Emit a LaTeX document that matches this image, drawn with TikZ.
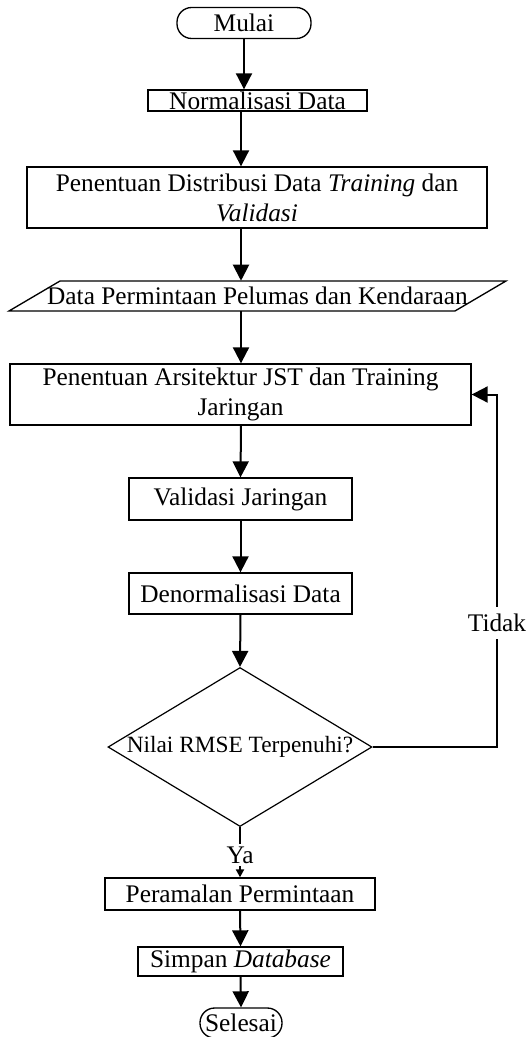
\documentclass[tikz,border=0pt]{standalone}
\usepackage{fontspec}
\setmainfont{Liberation Serif}
\usetikzlibrary{arrows.meta,shapes.geometric}
\begin{document}
\begin{tikzpicture}[x=0.75pt,y=-0.75pt,
  every node/.style={font=\fontsize{19}{22.5}\selectfont},
  box/.style={draw,line width=1pt,inner sep=0pt,align=center},
  term/.style={box,rounded corners=11pt},
  decision/.style={diamond,draw,line width=0.9pt,inner sep=0pt},
  arr/.style={line width=1.5pt,-{Triangle[length=12pt,width=12pt]}},
  smallarr/.style={line width=1.5pt,-{Triangle[length=6pt,width=6pt]}},
  tag/.style={fill=white,inner xsep=1pt,inner ysep=5pt}]
\useasboundingbox (0,0) rectangle (530,1037);

% process steps
\node[term,minimum width=100.5pt,minimum height=23.25pt] (mulai) at (244,23) {Mulai};
\node[box,minimum width=164.25pt,minimum height=15.75pt] (norm) at (257.5,100.5) {Normalisasi Data};
\node[box,minimum width=345pt,minimum height=45.75pt] (dist) at (257,197.5)
  {Penentuan Distribusi Data \textit{Training} dan\\\textit{Validasi}};
\node[inner sep=0pt,minimum width=334.5pt,minimum height=22.5pt] (par) at (257.5,296)
  {Data Permintaan Pelumas dan Kendaraan};
\draw[line width=1pt] (60,281) -- (506,281) -- (455,311) -- (9,311) -- cycle;
\node[box,minimum width=345.75pt,minimum height=45.75pt] (arch) at (240.5,394.5)
  {Penentuan Arsitektur JST dan Training\\Jaringan};
\node[box,minimum width=167.25pt,minimum height=31.5pt] (val) at (240.5,499) {Validasi Jaringan};
\node[box,minimum width=167.25pt,minimum height=30.75pt] (den) at (240.5,593.5) {Denormalisasi Data};
\node[decision,minimum width=198pt,minimum height=119.25pt,
  label={[font=\fontsize{17.5}{20}\selectfont]center:Nilai RMSE Terpenuhi?}] (dec) at (240,747) {};
\node[box,minimum width=202.5pt,minimum height=24pt] (peram) at (240,894) {Peramalan Permintaan};
\node[box,minimum width=153.75pt,minimum height=21.75pt] (simpan) at (240.5,961.5) {Simpan \textit{Database}};
\node[term,minimum width=61.5pt,minimum height=22.5pt] (selesai) at (241,1023) {Selesai};

% connectors
\coordinate (ax) at (241,0);
\coordinate (fb) at (497,747);
\draw[arr] (mulai.south) -- (mulai.south |- norm.north);
\draw[arr] (ax |- norm.south) -- (ax |- dist.north);
\draw[arr] (ax |- dist.south) -- (ax |- par.north);
\draw[arr] (ax |- par.south) -- (ax |- arch.north);
\draw[arr] (ax |- arch.south) -- (val.north);
\draw[arr] (val.south) -- (den.north);
\draw[arr] (den.south) -- (dec.north);
\draw[smallarr] (dec.south) -- node[tag,inner ysep=2pt,pos=0.56] (ya) {Ya} (peram.north);
\draw[arr] (peram.south) -- (simpan.north);
\draw[arr] (simpan.south) -- (selesai.north);
\draw[arr] (dec.east) -- (fb) |- (arch.east);
\node[tag] (tidak) at (497,623) {Tidak};
\end{tikzpicture}
\end{document}
